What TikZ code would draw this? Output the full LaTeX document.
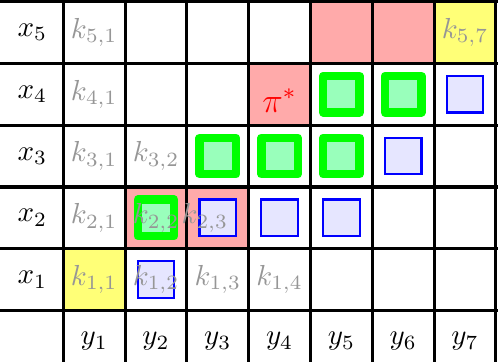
\documentclass[tikz,border=0pt]{standalone}
\definecolor{pinkc}{RGB}{255,170,170}
\definecolor{yelc}{RGB}{255,255,119}
\definecolor{greenfill}{RGB}{153,255,187}
\definecolor{greenline}{RGB}{0,255,0}
\definecolor{bluefill}{RGB}{230,230,255}
\definecolor{blueline}{RGB}{0,0,255}
\definecolor{kgray}{RGB}{150,150,150}
\tikzset{
  gridline/.style={line width=1.1pt, black},
  pinkcell/.style={fill=pinkc},
  yelcell/.style={fill=yelc},
  bluesq/.style={draw=blueline, fill=bluefill, line width=0.75pt, minimum size=0.4425cm, inner sep=0pt},
  greensq/.style={draw=greenline, fill=greenfill, line width=2.9pt, line join=round, minimum size=0.4425cm, inner sep=0pt},
  klab/.style={text=kgray, inner sep=0pt},
  axlab/.style={text=black, inner sep=0pt},
}
\begin{document}
\begin{tikzpicture}[x=0.75cm,y=-0.75cm]
\useasboundingbox (-0.0243,-0.0243) rectangle (8.034,5.833);
\clip (-0.0243,-0.0243) rectangle (8.034,5.833);
% cell fills
\foreach \c/\r in {5/0,6/0,4/1,2/3,3/3} \fill[pinkcell] (\c,\r) rectangle +(1,1);
\foreach \c/\r in {7/0,1/4} \fill[yelcell] (\c,\r) rectangle +(1,1);
% grid
\foreach \c in {1,...,8} \draw[gridline] (\c,-0.5) -- (\c,6.5);
\foreach \r in {0,...,5} \draw[gridline] (-0.5,\r) -- (8.5,\r);
% squares
\foreach \c/\r in {5/1,6/1,3/2,4/2,5/2,2/3} \node[greensq] (g\c\r) at (\c+0.5,\r+0.5) {};
\foreach \c/\r in {7/1,6/2,3/3,4/3,5/3,2/4} \node[bluesq] (b\c\r) at (\c+0.5,\r+0.5) {};
% row labels
\foreach \r/\i in {0/5,1/4,2/3,3/2,4/1} \node[axlab] (x\i) at (0.5,\r+0.5) {$x_{\i}$};
% column labels
\foreach \j in {1,...,7} \node[axlab] (y\j) at (\j+0.5,5.5) {$y_{\j}$};
% k labels
\foreach \c/\r/\i/\j in {1/0/5/1,1/1/4/1,1/2/3/1,2/2/3/2,1/3/2/1,2/3/2/2,1/4/1/1,2/4/1/2,3/4/1/3,4/4/1/4,7/0/5/7}
  \node[klab] (k\i\j) at (\c+0.5,\r+0.5) {$k_{\i,\j}$};
\node[klab] (k23) at (3.29,3.5) {$k_{2,3}$};
% pi star
\node[text=red, inner sep=0pt, anchor=base] (pistar) at (4.5,1.793) {\large$\pi^*$};
\end{tikzpicture}
\end{document}
